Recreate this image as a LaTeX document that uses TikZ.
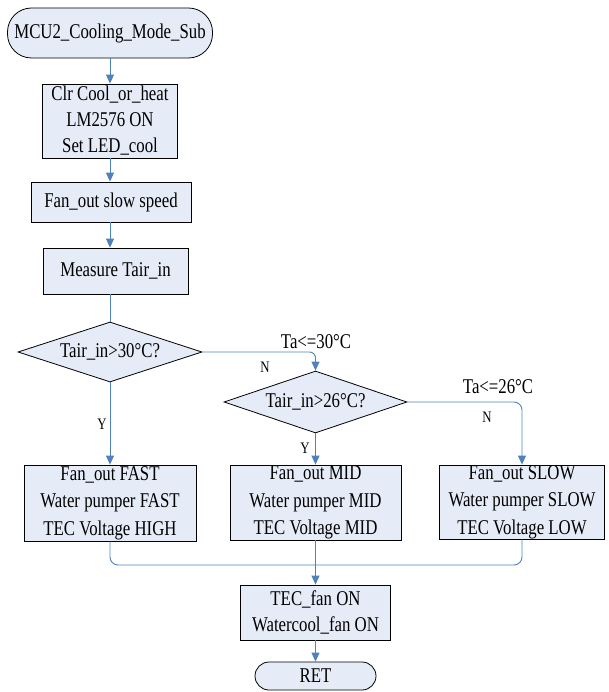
\documentclass[tikz,border=0pt]{standalone}
\usepackage{fontspec}
\setmainfont{Liberation Serif}[FakeStretch=0.8]
\usetikzlibrary{shapes.geometric,arrows.meta}
\definecolor{boxfill}{RGB}{230,236,247}
\definecolor{lineblue}{RGB}{79,129,189}
\tikzset{
  base/.style={draw=black, fill=boxfill, line width=0.8pt, inner sep=0pt, align=center,
    font=\fontsize{21}{26}\selectfont},
  procbox/.style={base, rectangle},
  termbox/.style={base, rectangle, rounded corners=#1},
  decbox/.style={base, diamond, aspect=3.07},
  conn/.style={draw=lineblue, line width=0.9pt},
  arr/.style={conn, -{Triangle[length=9pt,width=8pt,fill=lineblue]}},
  lbl/.style={inner sep=0pt, font=\fontsize{21}{24}\selectfont},
  yn/.style={inner sep=0pt, font=\fontsize{16}{18}\selectfont}
}
\begin{document}
\begin{tikzpicture}[x=1pt,y=-1pt]
\useasboundingbox (0,0) rectangle (609,692);
\node[termbox=24, minimum width=205, minimum height=50] (start) at (110,33) {MCU2\_Cooling\_Mode\_Sub};
\node[procbox, minimum width=135, minimum height=74] (b1) at (110,121) {Clr Cool\_or\_heat\\LM2576 ON\\Set LED\_cool};
\node[procbox, minimum width=160, minimum height=40] (b2) at (111,202) {Fan\_out slow speed};
\node[procbox, minimum width=145, minimum height=46] (b3) at (115.5,271) {Measure Tair\_in};
\node[decbox, minimum width=184, minimum height=60] (d1) at (110,352) {Tair\_in>30°C?};
\node[decbox, minimum width=183, minimum height=62] (d2) at (315.5,402) {Tair\_in>26°C?};
\node[procbox, minimum width=172, minimum height=76, font=\fontsize{21}{27.5}\selectfont] (fast) at (110,503) {Fan\_out FAST\\Water pumper FAST\\TEC Voltage HIGH};
\node[procbox, minimum width=171, minimum height=75, font=\fontsize{21}{27.5}\selectfont] (mid) at (315.5,502.5) {Fan\_out MID\\Water pumper MID\\TEC Voltage MID};
\node[procbox, minimum width=165, minimum height=74, font=\fontsize{21}{27.5}\selectfont] (slow) at (522,502) {Fan\_out SLOW\\Water pumper SLOW\\TEC Voltage LOW};
\node[procbox, minimum width=150, minimum height=55] (tec) at (315.5,612.5) {TEC\_fan ON\\Watercool\_fan ON};
\node[termbox=14, minimum width=121, minimum height=28] (ret) at (315.5,676) {RET};
\coordinate (m) at (315.5,565);
% labels
\node[lbl] (l30) at (316,342) {Ta<=30°C};
\node[lbl] (l26) at (498,387) {Ta<=26°C};
\node[yn] (n1) at (265,367) {N};
\node[yn] (n2) at (487,417) {N};
\node[yn] (y1) at (102,424) {Y};
\node[yn] (y2) at (305,448) {Y};
% connectors
\draw[arr] (start.south) -- (b1.north);
\draw[arr] (b1.south) -- (b1.south |- b2.north);
\draw[arr] (b2.south -| b1.south) -- (b1.south |- b3.north);
\draw[conn] (b3.south -| d1.north) -- (d1.north);
\draw[arr] (d1.south) -- (fast.north);
\draw[arr, rounded corners=6] (d1.east) -| (d2.north);
\draw[arr] (d2.south) -- (mid.north);
\draw[arr, rounded corners=8] (d2.east) -| (slow.north);
\draw[conn, rounded corners=8] (fast.south) |- (m);
\draw[conn, rounded corners=8] (slow.south) |- (m);
\draw[arr] (mid.south) -- (tec.north);
\draw[arr] (tec.south) -- (ret.north);
\end{tikzpicture}
\end{document}
